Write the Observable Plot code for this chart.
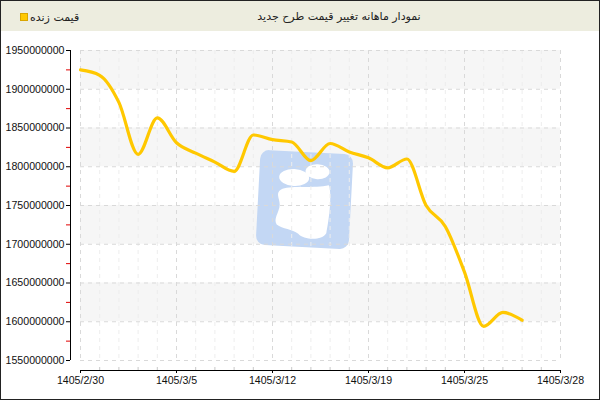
<!DOCTYPE html>
<html>
<head>
<meta charset="utf-8">
<script src="https://cdn.jsdelivr.net/npm/d3@7"></script>
<script src="https://cdn.jsdelivr.net/npm/@observablehq/plot@0.6"></script>
<style>
  html, body { margin: 0; padding: 0; background: #fff; }
  #wrap { position: relative; width: 600px; height: 400px; box-sizing: border-box; border: 1px solid #222; overflow: hidden; }
  #head { position: relative; height: 30px; background: #ededdf; font-family: Tahoma, "DejaVu Sans", sans-serif; font-size: 11px; color: #222; }
  #title { position: absolute; left: 338px; top: 9px; transform: translateX(-50%); white-space: nowrap; direction: rtl; }
  #legend { position: absolute; left: 19px; top: 9px; white-space: nowrap; }
  #legend .sw { display: inline-block; width: 6px; height: 6px; background: #ffc800; border: 0.5px solid #d9a500; vertical-align: middle; margin-right: 2px; }
  #legend .lt { direction: rtl; display: inline-block; vertical-align: middle; }
  #chart svg { display: block; }
</style>
</head>
<body>
<div id="wrap">
  <div id="head">
    <div id="legend"><span class="sw"></span><span class="lt">قیمت زنده</span></div>
    <div id="title">نمودار ماهانه تغییر قیمت طرح جدید</div>
  </div>
  <div id="chart"></div>
</div>
<script>
// ---- data ----
const xTickLabels = ["1405/2/30", "1405/3/5", "1405/3/12", "1405/3/19", "1405/3/25", "1405/3/28"];
const xTickIndex = [0, 5, 10, 15, 20, 25];
const priceValues = [
  1925000000, 1918000000, 1883000000, 1816000000, 1863000000, 1831000000,
  1817500000, 1806000000, 1794000000, 1841000000, 1835000000, 1832000000,
  1808000000, 1830000000, 1819000000, 1811500000, 1798600000, 1810000000,
  1750000000, 1723000000, 1664000000, 1594000000, 1612000000, 1602000000
];
const yMajorTicks = [1550000000, 1600000000, 1650000000, 1700000000, 1750000000, 1800000000, 1850000000, 1900000000, 1950000000];
const yMinorTicks = [1575000000, 1625000000, 1675000000, 1725000000, 1775000000, 1825000000, 1875000000, 1925000000];
const bandStarts = [1600000000, 1700000000, 1800000000, 1900000000];

const series = priceValues.map((v, i) => ({i, v}));
const bands = bandStarts.map(b => ({y1: b, y2: b + 50000000}));
const xMinor = d3.range(0, 26).filter(i => i % 5 !== 0);

function watermark(index, scales, values, dims) {
  const g = d3.create("svg:g").attr("transform", "translate(303,169) rotate(3)");
  g.append("rect").attr("x", -46).attr("y", -48).attr("width", 93).attr("height", 95)
    .attr("rx", 9).attr("fill", "#c3d7f4");
  g.append("ellipse").attr("cx", 12).attr("cy", -29).attr("rx", 12).attr("ry", 7.5).attr("fill", "#fff");
  g.append("ellipse").attr("cx", -11).attr("cy", -22).attr("rx", 15).attr("ry", 8.5).attr("fill", "#fff");
  g.append("path").attr("fill", "#fff")
    .attr("d", "M-22,-10 C-12,-14 10,-12 24,-16 C28,-8 26,20 24,32 C20,40 2,40 -4,34 C-10,30 -20,30 -26,26 C-30,20 -24,14 -24,6 C-24,0 -30,-6 -22,-10 Z");
  return g.node();
}

const plot = Plot.plot({
  width: 598,
  height: 368,
  marginLeft: 79,
  marginRight: 39,
  marginTop: 19,
  marginBottom: 39,
  style: { fontFamily: "Tahoma, 'Liberation Sans', Arial, sans-serif", fontSize: "10.6px", color: "#111", background: "#fff" },
  x: { domain: [0, 25], axis: null },
  y: { domain: [1550000000, 1950000000], axis: null },
  marks: [
    Plot.rect(bands, { x1: () => 0, x2: () => 25, y1: "y1", y2: "y2", fill: "#f6f6f6" }),
    watermark,
    Plot.gridX(xMinor, { stroke: "#ededed", strokeOpacity: 1, strokeDasharray: "4,4" }),
    Plot.gridX(xTickIndex, { stroke: "#d9d9d9", strokeOpacity: 1, strokeDasharray: "4,4" }),
    Plot.gridY(yMajorTicks, { stroke: "#d9d9d9", strokeOpacity: 1, strokeDasharray: "4,4" }),
    // y axis
    Plot.ruleX([0], { y1: 1550000000, y2: 1950000000, dx: -10, stroke: "#000" }),
    Plot.axisY(yMajorTicks, { anchor: "left", dx: -10, tickSize: 4, tickPadding: 2, tickFormat: d => String(d), stroke: "#000", label: null }),
    Plot.axisY(yMinorTicks, { anchor: "left", dx: -10, tickSize: 4, tickFormat: () => "", stroke: "#e00000", label: null }),
    // x axis
    Plot.ruleY([1550000000], { x1: 0, x2: 25, dy: 10, stroke: "#000" }),
    Plot.axisX(xTickIndex, { anchor: "bottom", dy: 10, tickSize: 3, tickPadding: 3, tickFormat: (d) => xTickLabels[xTickIndex.indexOf(d)], stroke: "#000", label: null }),
    Plot.axisX(xMinor, { anchor: "bottom", dy: 7, tickSize: 3, tickFormat: () => "", stroke: "#c8c8c8", label: null }),
    // data line
    Plot.line(series, { x: "i", y: "v", stroke: "#ffc800", strokeWidth: 3.2, curve: "monotone-x", strokeLinejoin: "round", strokeLinecap: "round" })
  ]
});
document.getElementById("chart").appendChild(plot);
</script>
</body>
</html>
